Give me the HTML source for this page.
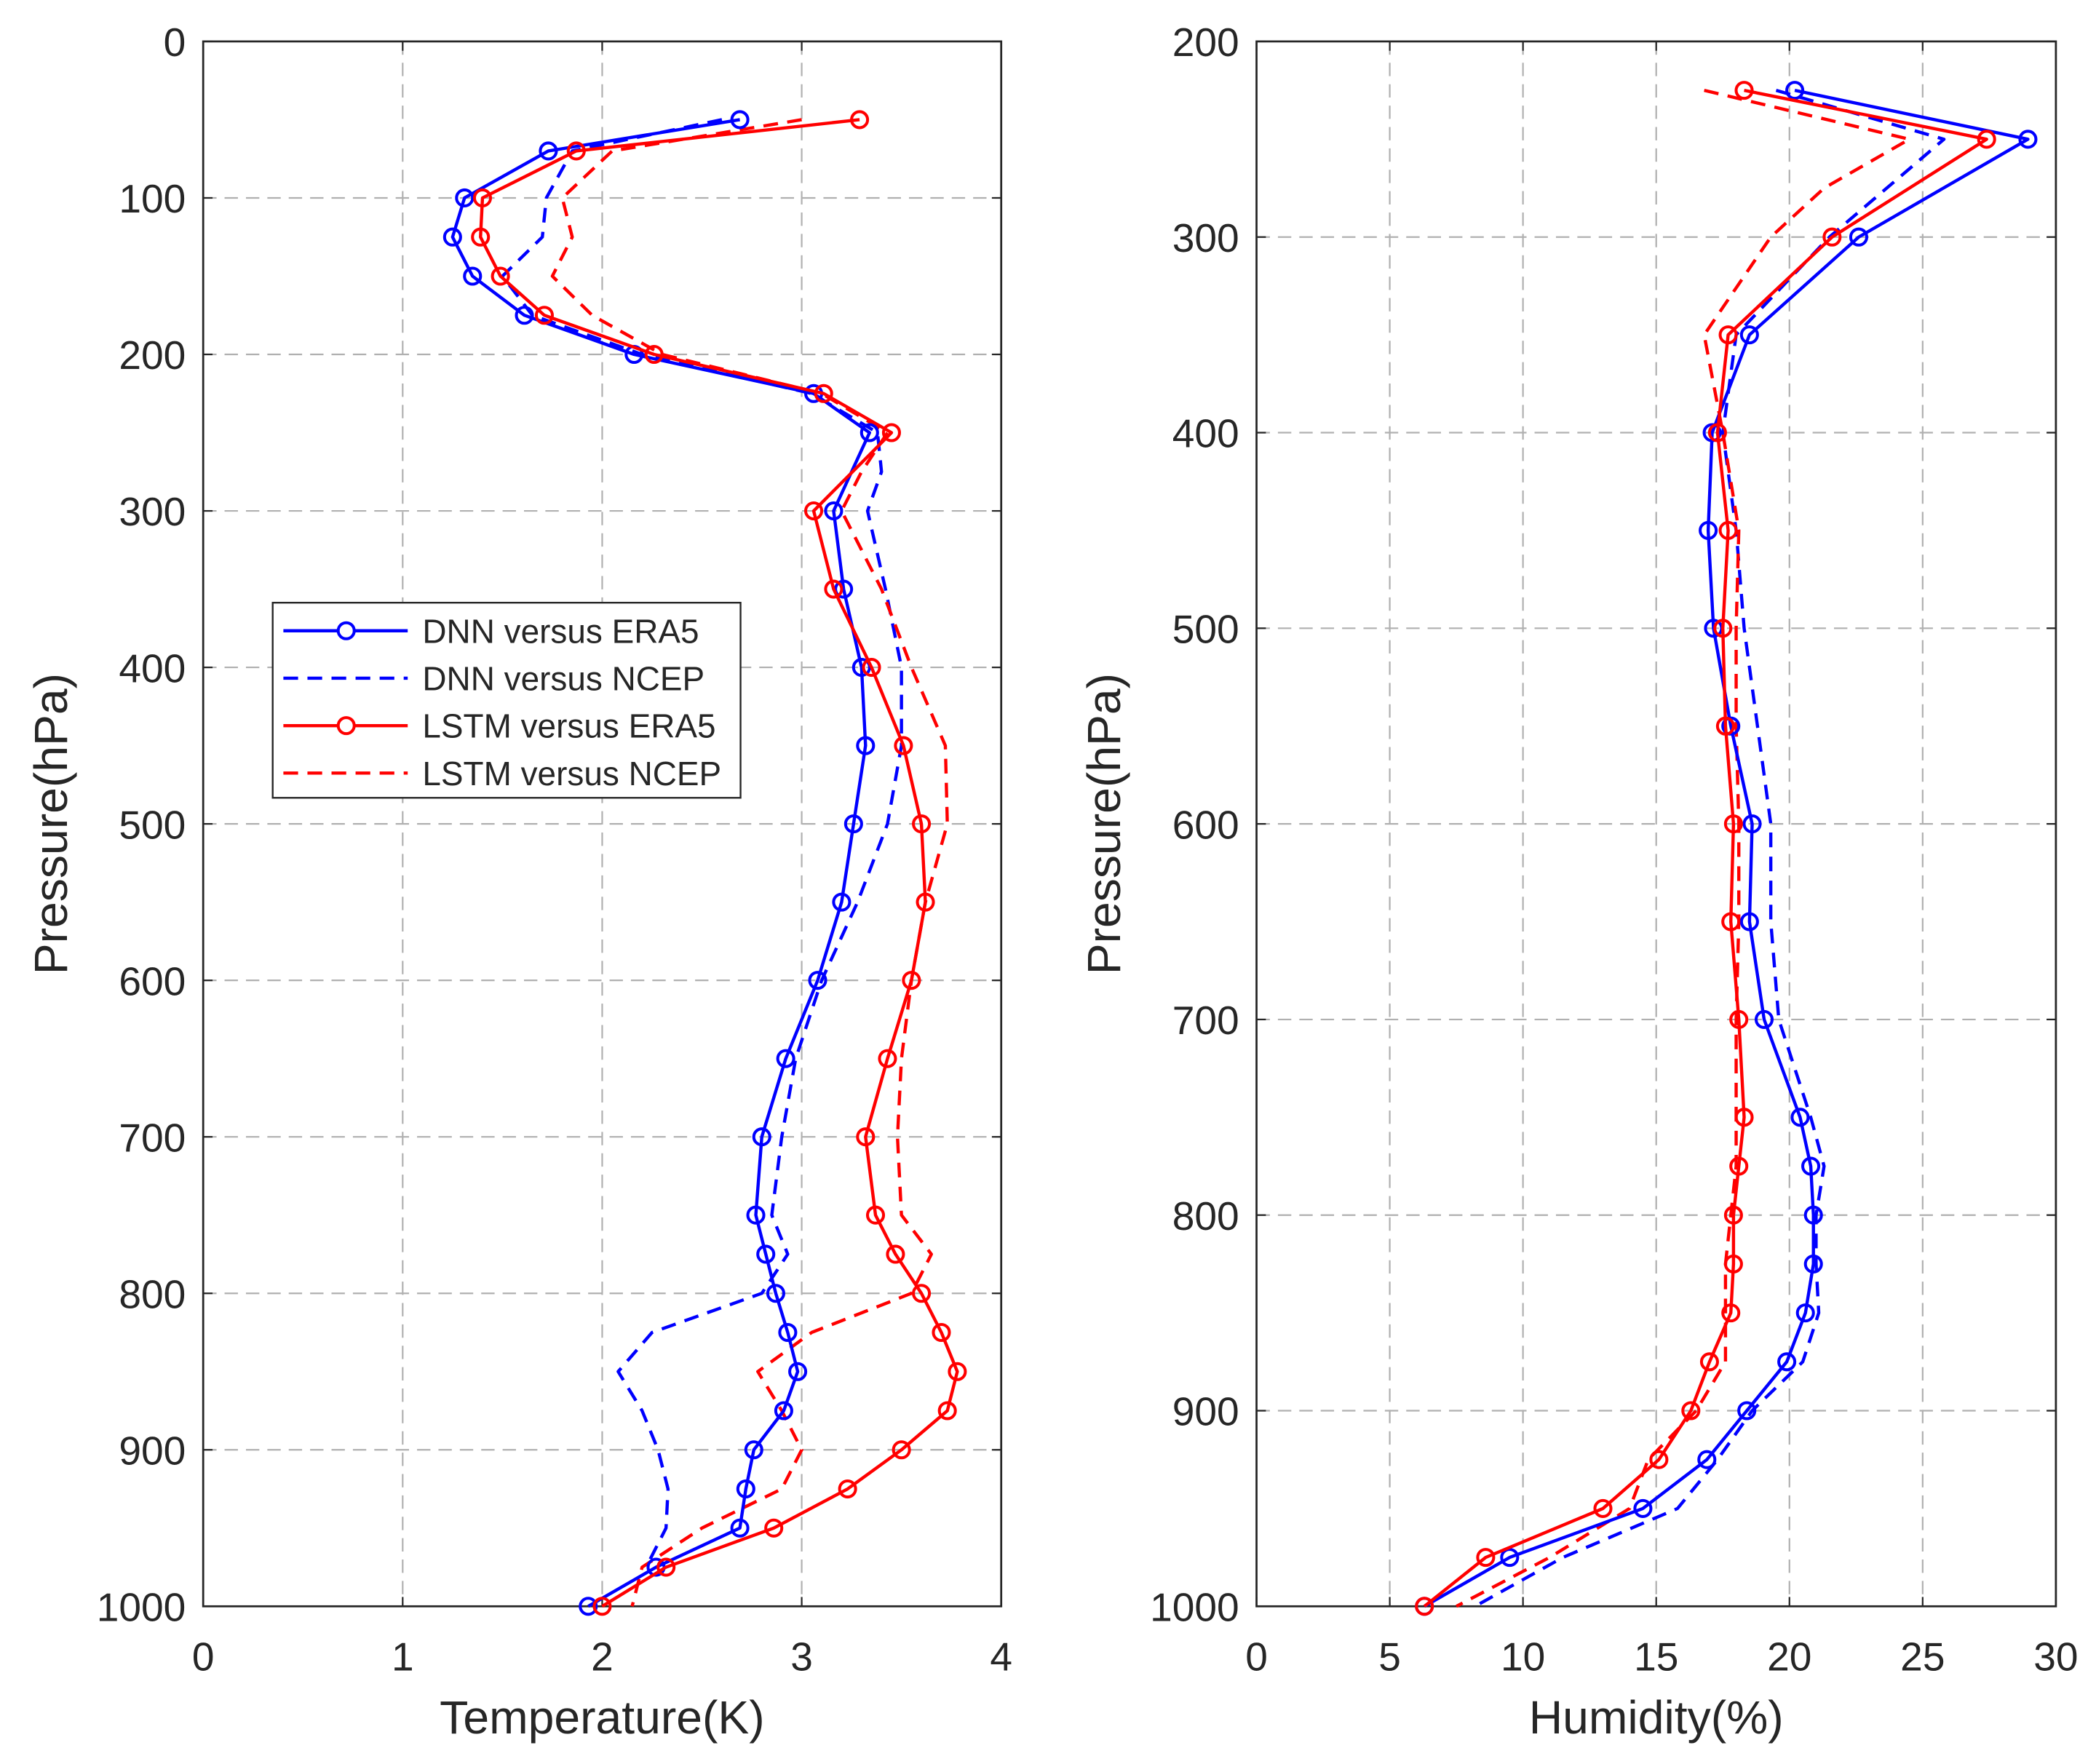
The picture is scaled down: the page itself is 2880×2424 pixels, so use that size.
<!DOCTYPE html>
<html><head><meta charset="utf-8">
<style>
html,body{margin:0;padding:0;background:#fff;}
svg{display:block;font-family:"Liberation Sans",Arial,sans-serif;}
</style></head>
<body>
<svg id="chart" width="2880" height="2424" viewBox="0 0 1568 1320" preserveAspectRatio="none" xmlns="http://www.w3.org/2000/svg">
<rect x="0" y="0" width="1568" height="1320" fill="#fff"/>
<g id="root"></g>
</svg>
<script>
// ---- data ----
const tempPressures = [50,70,100,125,150,175,200,225,250,300,350,400,450,500,550,600,650,700,750,775,800,825,850,875,900,925,950,975,1000];
const tempDnnEra5 = [2.69,1.73,1.31,1.25,1.35,1.61,2.16,3.06,3.34,3.16,3.21,3.30,3.32,3.26,3.20,3.08,2.92,2.80,2.77,2.82,2.87,2.93,2.98,2.91,2.76,2.72,2.69,2.27,1.93];
const tempLstmEra5 = [3.29,1.87,1.40,1.39,1.49,1.71,2.26,3.11,3.45,3.06,3.16,3.35,3.51,3.60,3.62,3.55,3.43,3.32,3.37,3.47,3.60,3.70,3.78,3.73,3.50,3.23,2.86,2.32,2.00];
const tempDnnNcepPressures = [50,70,100,125,150,175,200,225,250,275,300,350,400,450,500,550,600,650,700,750,775,800,825,850,875,900,925,950,975];
const tempDnnNcep = [2.60,1.85,1.72,1.70,1.50,1.65,2.20,3.05,3.38,3.40,3.33,3.42,3.50,3.50,3.43,3.28,3.10,2.97,2.90,2.85,2.93,2.80,2.25,2.08,2.20,2.28,2.33,2.32,2.22];
const tempLstmNcepPressures = [50,70,100,125,150,175,200,225,250,275,300,350,400,450,500,550,600,650,700,750,775,800,825,850,875,900,925,950,975,1000];
const tempLstmNcep = [3.00,2.05,1.80,1.85,1.75,1.95,2.30,3.10,3.43,3.30,3.20,3.40,3.55,3.72,3.73,3.62,3.55,3.50,3.48,3.50,3.65,3.55,3.05,2.78,2.90,3.00,2.90,2.50,2.20,2.15];

const humPressures = [225,250,300,350,400,450,500,550,600,650,700,750,775,800,825,850,875,900,925,950,975,1000];
const humDnnEra5 = [20.2,28.95,22.6,18.5,17.1,16.95,17.15,17.8,18.6,18.5,19.05,20.4,20.8,20.9,20.9,20.6,19.9,18.4,16.9,14.5,9.5,6.3];
const humDnnNcep = [19.5,25.8,21.5,18.0,17.5,18.0,18.3,18.8,19.3,19.3,19.6,20.8,21.3,21.0,21.0,21.1,20.5,18.6,17.3,15.8,11.5,8.2];
const humLstmEra5 = [18.3,27.4,21.6,17.7,17.3,17.7,17.5,17.6,17.9,17.8,18.1,18.3,18.1,17.9,17.9,17.8,17.0,16.3,15.1,13.0,8.6,6.3];
const humLstmNcepPressures = [225,250,275,300,350,400,450,500,550,600,650,700,750,775,800,825,850,875,900,925,950,975,1000];
const humLstmNcep = [16.8,24.5,21.3,19.3,16.8,17.5,18.1,18.0,18.0,18.1,18.1,18.0,18.0,18.0,17.8,17.6,17.6,17.6,16.5,14.7,14.0,11.0,7.5];

const tempXTicks = [0,1,2,3,4];
const tempYTicks = [0,100,200,300,400,500,600,700,800,900,1000];
const humXTicks = [0,5,10,15,20,25,30];
const humYTicks = [200,300,400,500,600,700,800,900,1000];

const legendLabels = ["DNN versus ERA5","DNN versus NCEP","LSTM versus ERA5","LSTM versus NCEP"];

// ---- drawing ----
const NS = "http://www.w3.org/2000/svg";
const root = document.getElementById('root');
function el(tag, attrs, parent){
  const e = document.createElementNS(NS, tag);
  for (const k in attrs) e.setAttribute(k, attrs[k]);
  (parent||root).appendChild(e);
  return e;
}
const BLUE = "#0000ff", RED = "#ff0000";

function makePanel(cfg){
  const g = el('g', {});
  
  
  const L=cfg.L, R=cfg.R, T=31, B=1202;
  const xs = v => L + (v - cfg.xmin) / (cfg.xmax - cfg.xmin) * (R - L);
  const ys = p => T + (p - cfg.ymin) / (cfg.ymax - cfg.ymin) * (B - T);
  cfg.xt.forEach(v => {
    if (v===cfg.xmin || v===cfg.xmax) return;
    const l = el('line', {x1:xs(v), x2:xs(v), y1:T, y2:B, stroke:'#b0b0b0', 'stroke-width':1.2, 'stroke-dasharray':'10,6'}, g);
    
    
  });
  cfg.yt.forEach(v => {
    if (v===cfg.ymin || v===cfg.ymax) return;
    const l = el('line', {x1:L, x2:R, y1:ys(v), y2:ys(v), stroke:'#b0b0b0', 'stroke-width':1.2, 'stroke-dasharray':'10,6'}, g);
    
    
  });
  const box = el('rect', {x:L, y:T, width:R-L, height:B-T, fill:'none', stroke:'#262626', 'stroke-width':1.5}, g);
  
  
  cfg.xt.forEach(v => {
    el('line', {x1:xs(v), x2:xs(v), y1:B, y2:B-7, stroke:'#262626','stroke-width':1.2}, g);
    el('line', {x1:xs(v), x2:xs(v), y1:T, y2:T+7, stroke:'#262626','stroke-width':1.2}, g);
    const t = el('text', {x:xs(v), y:1250, 'text-anchor':'middle', 'font-size':30, fill:'#262626'}, g);
    t.textContent = v;
    
    
  });
  cfg.yt.forEach(v => {
    el('line', {x1:L, x2:L+7, y1:ys(v), y2:ys(v), stroke:'#262626','stroke-width':1.2}, g);
    el('line', {x1:R, x2:R-7, y1:ys(v), y2:ys(v), stroke:'#262626','stroke-width':1.2}, g);
    const t = el('text', {x:L-13, y:ys(v)+11, 'text-anchor':'end', 'font-size':30, fill:'#262626'}, g);
    t.textContent = v;
    
    
  });
  const xt = el('text', {x:(L+R)/2, y:1297, 'text-anchor':'middle', 'font-size':35, fill:'#262626'}, g);
  xt.textContent = cfg.xtitle;
  
  
  const yt = el('text', {x:0, y:0, 'text-anchor':'middle', 'font-size':35, fill:'#262626', transform:`translate(${cfg.ytx},${(T+B)/2}) rotate(-90)`}, g);
  yt.textContent = 'Pressure(hPa)';
  
  
  cfg.series.forEach(s => {
    const pts = s.vals.map((v,i) => xs(v).toFixed(2)+','+ys(s.p[i]).toFixed(2)).join(' ');
    const pl = el('polyline', {points:pts, fill:'none', stroke:s.color, 'stroke-width':2.4, 'stroke-linejoin':'round', 'stroke-dasharray': s.dash ? '11,7' : 'none'}, g);
    
    
    if (!s.dash) {
      s.vals.forEach((v,i) => {
        const c = el('circle', {cx:xs(v), cy:ys(s.p[i]), r:6, fill:'none', stroke:s.color, 'stroke-width':2.2}, g);
        
        
      });
    }
  });
}

makePanel({name:'temperature-panel', L:152, R:749, xmin:0, xmax:4, ymin:0, ymax:1000,
  xt:tempXTicks, yt:tempYTicks, xtitle:'Temperature(K)', ytx:50,
  series:[
    {name:'dnn-ncep-line', p:tempDnnNcepPressures, vals:tempDnnNcep, color:BLUE, dash:true},
    {name:'lstm-ncep-line', p:tempLstmNcepPressures, vals:tempLstmNcep, color:RED, dash:true},
    {name:'dnn-era5-line', p:tempPressures, vals:tempDnnEra5, color:BLUE, dash:false},
    {name:'lstm-era5-line', p:tempPressures, vals:tempLstmEra5, color:RED, dash:false}
  ]});
makePanel({name:'humidity-panel', L:940, R:1538, xmin:0, xmax:30, ymin:200, ymax:1000,
  xt:humXTicks, yt:humYTicks, xtitle:'Humidity(%)', ytx:838,
  series:[
    {name:'dnn-ncep-line', p:humPressures, vals:humDnnNcep, color:BLUE, dash:true},
    {name:'lstm-ncep-line', p:humLstmNcepPressures, vals:humLstmNcep, color:RED, dash:true},
    {name:'dnn-era5-line', p:humPressures, vals:humDnnEra5, color:BLUE, dash:false},
    {name:'lstm-era5-line', p:humPressures, vals:humLstmEra5, color:RED, dash:false}
  ]});

const lg = el('g', {});


el('rect', {x:204, y:451, width:350, height:146, fill:'#fff', stroke:'#262626', 'stroke-width':1.3}, lg);
const legColors = [BLUE, BLUE, RED, RED];
const legDash = [false, true, false, true];
legendLabels.forEach((lab, i) => {
  const y = 472 + i*35.5;
  const ln = el('line', {x1:212, x2:305, y1:y, y2:y, stroke:legColors[i], 'stroke-width':2.4, 'stroke-dasharray': legDash[i] ? '11,7' : 'none'}, lg);
  
  
  if (!legDash[i]) el('circle', {cx:259, cy:y, r:6, fill:'#fff', stroke:legColors[i], 'stroke-width':2.2}, lg);
  const t = el('text', {x:316, y:y+9, 'font-size':25, fill:'#262626'}, lg);
  t.textContent = lab;
  
  
});
</script>
</body></html>
